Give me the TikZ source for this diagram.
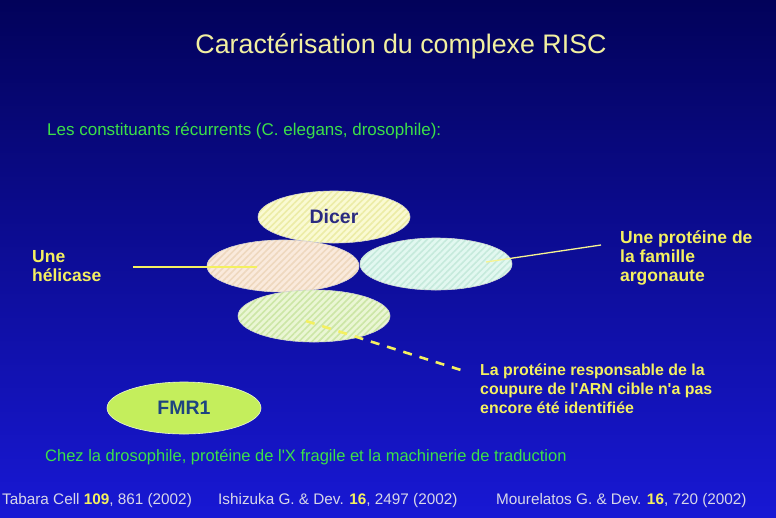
\documentclass[tikz,border=0pt]{standalone}
\usepackage{fontspec}
\defaultfontfeatures[\rmfamily,\sffamily]{}
\setmainfont{Liberation Sans}
\usetikzlibrary{shapes.geometric,patterns.meta}
\definecolor{bgtop}{HTML}{02025A}
\definecolor{bgbot}{HTML}{1818D4}
\definecolor{titley}{HTML}{F2F0A0}
\definecolor{greent}{HTML}{3CE048}
\definecolor{labely}{HTML}{F4F060}
\definecolor{dicerf}{HTML}{FAFAD2}
\definecolor{dicers}{HTML}{ECECA6}
\definecolor{helif}{HTML}{FAEADC}
\definecolor{helis}{HTML}{EED8BE}
\definecolor{argof}{HTML}{E2F8F0}
\definecolor{argos}{HTML}{C6EADC}
\definecolor{slicef}{HTML}{EAF6D4}
\definecolor{slices}{HTML}{CCE6A6}
\definecolor{fmrf}{HTML}{C4EE5C}
\definecolor{navyt}{HTML}{2A2A80}
\definecolor{reft}{HTML}{D8D8E8}
\begin{document}
\begin{tikzpicture}[x=1pt,y=-1pt,
  prot/.style={ellipse,minimum width=152pt,minimum height=52pt,inner sep=0pt,
    draw=white!65!gray,line width=0.6pt},
  hatched/.style={postaction={pattern={Lines[angle=45,distance=4.6pt,line width=1.6pt]},pattern color=#1}},
  lbl/.style={anchor=west,align=left,text=labely,font=\bfseries\fontsize{17.5}{18.6}\selectfont,inner sep=0pt},
  grn/.style={anchor=west,text=greent,font=\fontsize{17}{19}\selectfont,inner sep=0pt},
  reff/.style={anchor=west,inner sep=0pt,text=reft,font=\fontsize{15.3}{17}\selectfont},
  conn/.style={draw=labely,line width=1.3pt}]
\shade[top color=bgtop,bottom color=bgbot] (0,0) rectangle (776,517);
\useasboundingbox (0,0) rectangle (776,517);
% title
\node[text=titley,font=\fontsize{26.8}{30}\selectfont,inner sep=0pt] (title) at (401,46) {Caractérisation du complexe RISC};
\node[grn] (sub) at (47,131) {Les constituants récurrents (C. elegans, drosophile):};
% proteins
\node[prot,fill=dicerf,hatched=dicers] (dicer) at (334,217) {};
\node[text=navyt,font=\bfseries\fontsize{19.5}{21}\selectfont] (dicert) at (dicer) {Dicer};
\node[prot,fill=helif,hatched=helis] (heli) at (283,266) {};
\node[prot,fill=argof,hatched=argos] (argo) at (436,264) {};
\node[prot,fill=slicef,hatched=slices] (slice) at (314,316) {};
% labels
\node[lbl] (helt) at (32,266) {Une\\hélicase};
\node[lbl] (argt) at (620,258) {Une protéine de\\la famille\\argonaute};
\node[lbl,font=\bfseries\fontsize{15.9}{19}\selectfont] (slt) at (480,389) {La protéine responsable de la\\coupure de l'ARN cible n'a pas\\encore été identifiée};
% connectors
\coordinate (h1) at (133,267);
\coordinate (h2) at (257,267);
\coordinate (a1) at (486,262);
\coordinate (a2) at (601,245);
\coordinate (s1) at (306,321);
\coordinate (s2) at (464,371);
\draw[conn] (h1) -- (h2);
\draw[conn,draw=labely!70!white] (a1) -- (a2);
\draw[conn,line width=2.6pt,dash pattern=on 9pt off 8pt] (s1) -- (s2);
% FMR1
\node[ellipse,minimum width=154pt,minimum height=52pt,inner sep=0pt,fill=fmrf,draw=white!70!fmrf,line width=0.6pt] (fmr) at (184,408) {};
\node[text=navyt!70!teal,font=\bfseries\fontsize{19.5}{21}\selectfont] (fmrt) at (fmr) {FMR1};
\node[grn,font=\fontsize{16.5}{19}\selectfont] (chez) at (45,457) {Chez la drosophile, protéine de l'X fragile et la machinerie de traduction};
% references
\node[reff] (r1) at (2,501) {Tabara Cell \textcolor{labely}{\bfseries 109}, 861 (2002)};
\node[reff] (r2) at (218,501) {Ishizuka G. \& Dev. \textcolor{labely}{\bfseries 16}, 2497 (2002)};
\node[reff] (r3) at (496,501) {Mourelatos G. \& Dev. \textcolor{labely}{\bfseries 16}, 720 (2002)};
\end{tikzpicture}
\end{document}
